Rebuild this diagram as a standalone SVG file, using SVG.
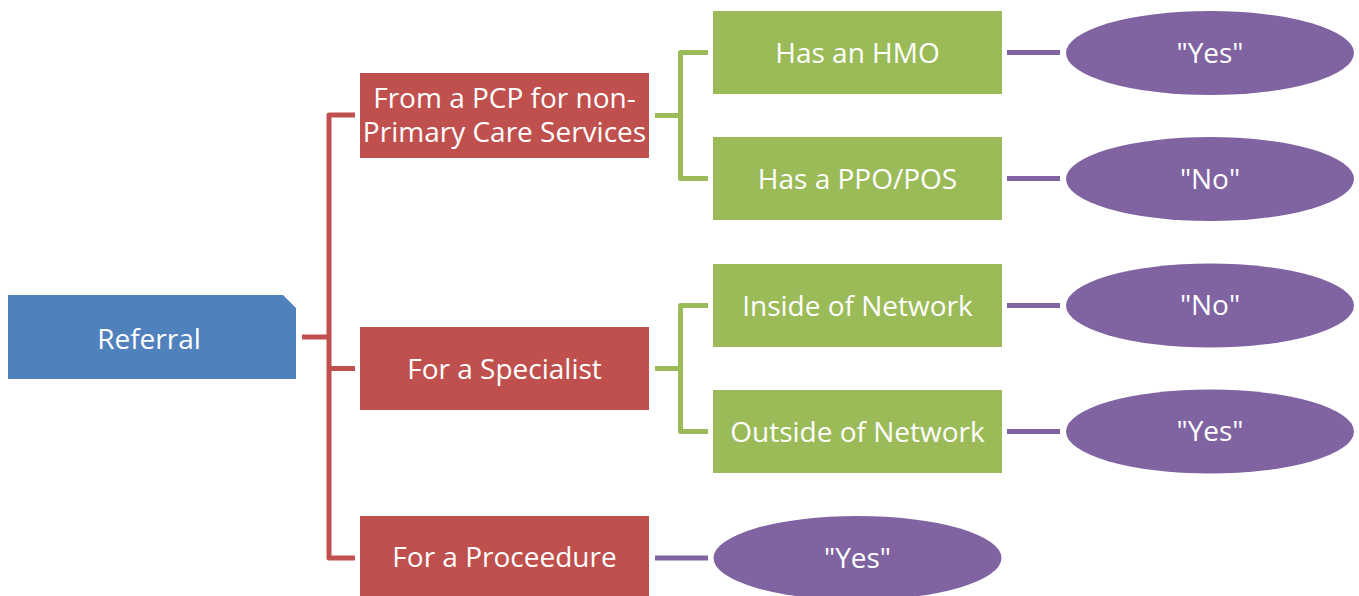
<svg xmlns="http://www.w3.org/2000/svg" width="1359" height="596" viewBox="0 0 1359 596">
<style>
text{font-family:"Open Sans","Noto Sans",sans-serif;font-size:28px;fill:#fff;text-anchor:middle}
.red{fill:#C0504D}
.green{fill:#9BBB59}
.purple{fill:#8064A2}
.blue{fill:#4F81BD}
.cr{stroke:#C0504D;stroke-width:5;fill:none;stroke-linejoin:round}
.cg{stroke:#9BBB59;stroke-width:5;fill:none;stroke-linejoin:round}
.cp{stroke:#8064A2;stroke-width:5;fill:none}
</style>
<rect width="1359" height="596" fill="#fff"/>
<g id="connectors">
<path class="cr" d="M302,337 H329 M355,115 H329 V558 H355 M329,368.5 H355"/>
<path class="cg" d="M655,115.5 H680.5 M708,52.5 H680.5 V178.5 H708"/>
<path class="cg" d="M655,368.5 H680.5 M708,305.5 H680.5 V431.5 H708"/>
<path class="cp" d="M1007,52.5 H1060 M1007,178.5 H1060 M1007,305.5 H1060 M1007,431.5 H1060 M655,558 H708"/>
</g>
<g id="referral">
<path class="blue" d="M8,295 H283 L296,308 V379 H8 Z"/>
<text x="149" y="349">Referral</text>
</g>
<g id="pcp">
<rect class="red" x="360" y="73" width="289" height="85"/>
<text x="504.5" y="108">From a PCP for non-</text>
<text x="504.5" y="142">Primary Care Services</text>
</g>
<g id="specialist">
<rect class="red" x="360" y="327" width="289" height="83"/>
<text x="504.5" y="378.5">For a Specialist</text>
</g>
<g id="procedure">
<rect class="red" x="360" y="516" width="289" height="84"/>
<text x="504.5" y="567">For a Proceedure</text>
</g>
<g id="hmo">
<rect class="green" x="713" y="11" width="289" height="83"/>
<text x="857.5" y="62.5">Has an HMO</text>
</g>
<g id="ppo">
<rect class="green" x="713" y="137" width="289" height="83"/>
<text x="857.5" y="188.5">Has a PPO/POS</text>
</g>
<g id="inside">
<rect class="green" x="713" y="264" width="289" height="83"/>
<text x="857.5" y="315.5">Inside of Network</text>
</g>
<g id="outside">
<rect class="green" x="713" y="390" width="289" height="83"/>
<text x="857.5" y="441.5">Outside of Network</text>
</g>
<g id="yes1">
<ellipse class="purple" cx="1210" cy="53" rx="144" ry="42"/>
<text x="1210" y="62.5">"Yes"</text>
</g>
<g id="no1">
<ellipse class="purple" cx="1210" cy="179" rx="144" ry="42"/>
<text x="1210" y="188.5">"No"</text>
</g>
<g id="no2">
<ellipse class="purple" cx="1210" cy="305.5" rx="144" ry="42"/>
<text x="1210" y="315">"No"</text>
</g>
<g id="yes2">
<ellipse class="purple" cx="1210" cy="431.5" rx="144" ry="42"/>
<text x="1210" y="441">"Yes"</text>
</g>
<g id="yes3">
<ellipse class="purple" cx="857.5" cy="558" rx="144" ry="42"/>
<text x="857.5" y="567.5">"Yes"</text>
</g>
</svg>
